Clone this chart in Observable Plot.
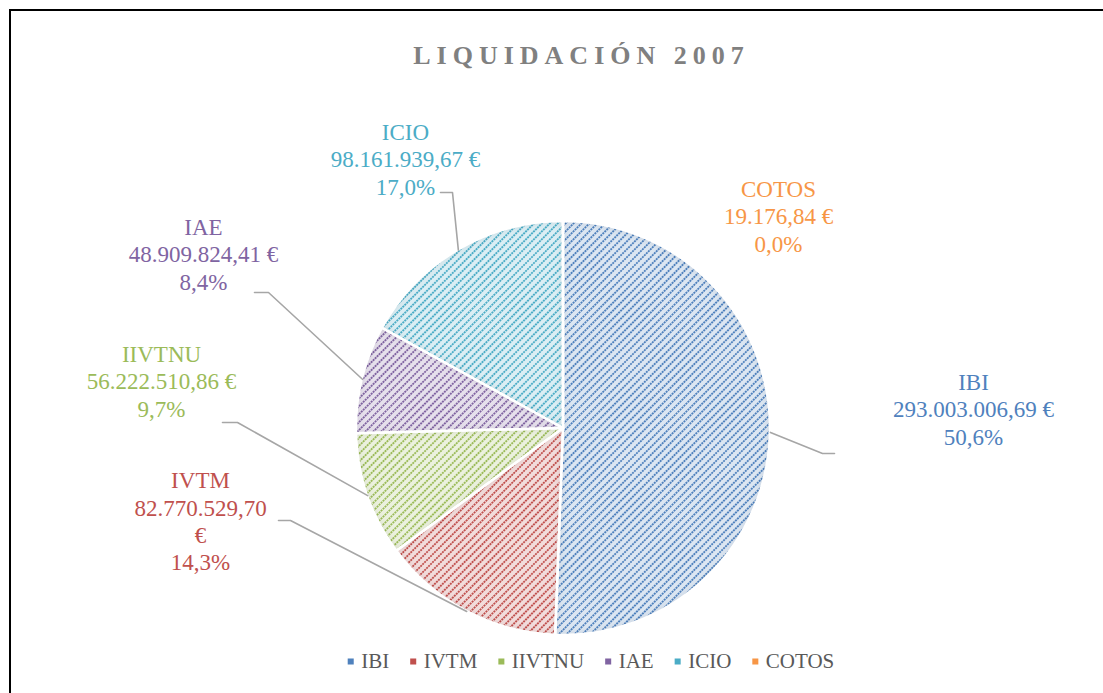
<!DOCTYPE html>
<html><head><meta charset="utf-8">
<script src="https://cdn.jsdelivr.net/npm/d3@7"></script>
<script src="https://cdn.jsdelivr.net/npm/@observablehq/plot@0.6"></script>
<style>
html,body{margin:0;padding:0;background:#fff;overflow:hidden;}
#wrap{position:relative;width:1103px;height:693px;overflow:hidden;}
#chart{position:absolute;left:0;top:0;}
#border{position:absolute;left:9px;top:9px;width:1200px;height:800px;border-left:2px solid #000;border-top:2px solid #000;pointer-events:none;}
#title{position:absolute;left:30px;width:1103px;top:43px;text-align:center;font:bold 26px "Liberation Serif";line-height:26px;letter-spacing:6px;color:#808080;white-space:nowrap;}
</style></head>
<body><div id="wrap"><div id="chart"></div><div id="title"></div><div id="border"></div></div>
<script>
// ---- data ----
const titleText = "LIQUIDACIÓN 2007";
const categories = ["IBI", "IVTM", "IIVTNU", "IAE", "ICIO", "COTOS"];
const values = [293003006.69, 82770529.70, 56222510.86, 48909824.41, 98161939.67, 19176.84];
const colors = ["#4F81BD", "#C0504D", "#9BBB59", "#8064A2", "#4BACC6", "#F79646"];

// ---- layout (pixels) ----
const pieCenter = {x: 563, y: 428};
const pieRadius = 207;
const labelPos = [
  {x: 973, y: 408, wrap: false, elbow: [822, 453], end: [834, 453]},
  {x: 200, y: 520, wrap: true,  elbow: [290, 520], end: [278, 520]},
  {x: 161, y: 380, wrap: false, elbow: [237, 422], end: [222, 422]},
  {x: 203, y: 253, wrap: false, elbow: [268, 292], end: [254, 292]},
  {x: 405, y: 158, wrap: false, elbow: [452, 192], end: [440, 192]},
  {x: 778, y: 215, wrap: false, elbow: null, end: null}
];
const legendY = 661, legendCenter = 590.5;

document.getElementById("title").textContent = titleText;

const loc = d3.formatLocale({decimal: ",", thousands: ".", grouping: [3], currency: ["", " €"]});
const fmtVal = loc.format(",.2f");
const fmtPct = loc.format(".1%");
const total = d3.sum(values);
const data = categories.map((c, i) => ({name: c, value: values[i], color: colors[i], i}));
const arcs = d3.pie().sort(null).value(d => d.value)(data);

// label texts
const labels = data.map((d, i) => {
  const v = fmtVal(d.value);
  const pct = fmtPct(d.value / total);
  const L = labelPos[i];
  const txt = L.wrap ? `${d.name}\n${v}\n€\n${pct}` : `${d.name}\n${v} €\n${pct}`;
  return {x: L.x, y: L.y, text: txt, color: d.color};
});

// leader lines
const leaders = [];
arcs.forEach((a, i) => {
  const L = labelPos[i];
  if (!L.elbow) return;
  const m = (a.startAngle + a.endAngle) / 2;
  leaders.push({name: a.data.name, x: pieCenter.x + pieRadius * Math.sin(m), y: pieCenter.y - pieRadius * Math.cos(m)});
  leaders.push({name: a.data.name, x: L.elbow[0], y: L.elbow[1]});
  leaders.push({name: a.data.name, x: L.end[0], y: L.end[1]});
});

// legend layout from measured text widths
const ctx = document.createElement("canvas").getContext("2d");
ctx.font = "21px 'Liberation Serif'";
const widths = categories.map(c => ctx.measureText(c).width);
const markGap = 10.5, itemGap = 24;
let totalW = 3 + d3.sum(widths.map(w => markGap + w)) + itemGap * (categories.length - 1);
let cur = legendCenter - totalW / 2;
const legend = categories.map((c, i) => {
  const mx = cur + 3;
  const tx = mx + markGap;
  cur = tx + widths[i] + itemGap - 3;
  return {name: c, mx, tx, color: colors[i]};
});

function pieMark(index, scales, vals, dimensions, context) {
  const g = d3.create("svg:g");
  const defs = g.append("defs");
  data.forEach((d, i) => {
    const s = 5.6;
    const p = defs.append("pattern").attr("id", "pat" + i)
      .attr("patternUnits", "userSpaceOnUse").attr("width", s).attr("height", s)
      .attr("patternTransform", "rotate(-45)");
    p.append("rect").attr("width", s).attr("height", s).attr("fill", d3.interpolateRgb(d.color, "#fff")(0.8));
    p.append("line").attr("x1", 0).attr("x2", s).attr("y1", s / 2).attr("y2", s / 2)
      .attr("stroke", d.color).attr("stroke-width", 2).attr("stroke-dasharray", "2 0.8");
  });
  const f = defs.append("filter").attr("id", "inset").attr("x", "-10%").attr("y", "-10%").attr("width", "120%").attr("height", "120%");
  f.append("feComponentTransfer").attr("in", "SourceAlpha").attr("result", "inv")
    .append("feFuncA").attr("type", "table").attr("tableValues", "1 0");
  f.append("feGaussianBlur").attr("in", "inv").attr("stdDeviation", 4).attr("result", "blur");
  f.append("feFlood").attr("flood-color", "#000").attr("flood-opacity", 0.22).attr("result", "col");
  f.append("feComposite").attr("in", "col").attr("in2", "blur").attr("operator", "in").attr("result", "sh");
  f.append("feComposite").attr("in", "sh").attr("in2", "SourceAlpha").attr("operator", "in").attr("result", "sh2");
  const mg = f.append("feMerge");
  mg.append("feMergeNode").attr("in", "SourceGraphic");
  mg.append("feMergeNode").attr("in", "sh2");

  const cx = scales.x(pieCenter.x), cy = scales.y(pieCenter.y);
  const r = scales.x(pieCenter.x + pieRadius) - cx;
  const arc = d3.arc().innerRadius(0).outerRadius(r);
  g.selectAll("path.slice").data(arcs).join("path").attr("class", "slice")
    .attr("transform", `translate(${cx},${cy})`)
    .attr("d", arc)
    .attr("fill", (d, i) => `url(#pat${i})`)
    .attr("filter", "url(#inset)");
  g.selectAll("path.sep").data(arcs).join("path").attr("class", "sep")
    .attr("transform", `translate(${cx},${cy})`)
    .attr("d", arc)
    .attr("fill", "none").attr("stroke", "#fff").attr("stroke-width", 2.5).attr("stroke-linejoin", "round");
  return g.node();
}

const chart = Plot.plot({
  width: 1103, height: 693, margin: 0,
  x: {domain: [0, 1103], range: [0, 1103], axis: null},
  y: {domain: [0, 693], range: [0, 693], axis: null},
  style: {background: "transparent", fontFamily: "'Liberation Serif', 'Times New Roman', serif"},
  marks: [
    pieMark,
    Plot.line(leaders, {x: "x", y: "y", z: "name", stroke: "#A6A6A6", strokeWidth: 1.6, curve: "linear"}),
    Plot.text(labels, {x: "x", y: "y", text: "text", fill: "color", fontSize: 23, fontFamily: "'Liberation Serif', serif",
      lineHeight: 1.19, lineAnchor: "middle", textAnchor: "middle"}),
    Plot.dot(legend, {x: "mx", y: () => legendY, symbol: "square", r: 3.4, fill: "color", stroke: null}),
    Plot.text(legend, {x: "tx", y: () => legendY, text: "name", fill: "#595959", fontSize: 21,
      fontFamily: "'Liberation Serif', serif", textAnchor: "start"})
  ]
});
document.getElementById("chart").appendChild(chart);
</script>
</body></html>
